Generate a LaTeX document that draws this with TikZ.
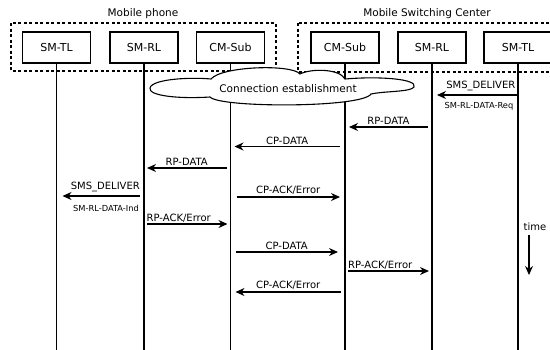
\documentclass[tikz,border=0pt]{standalone}
\usepackage{fontspec}
\setmainfont{DejaVu Sans}
\usetikzlibrary{arrows.meta,calc}
\begin{document}
\begin{tikzpicture}[x=1pt,y=-1pt,
  entity/.style={draw,line width=1.3pt,minimum width=68pt,minimum height=31pt,inner sep=0pt,font=\fontsize{11}{13}\selectfont},
  group/.style={draw,line width=1.2pt,dash pattern=on 3pt off 2.5pt},
  life/.style={line width=1.2pt},
  cloudline/.style={draw,fill=white,line width=1.1pt,line join=miter},
  msg/.style={line width=1.2pt,-{Stealth[length=9pt,width=8pt]}},
  lbl/.style={font=\fontsize{10}{12}\selectfont,inner sep=1.5pt},
  small/.style={font=\fontsize{8.3}{10}\selectfont,inner sep=1pt}]
\useasboundingbox (0,0) rectangle (550,349);
\clip (0,0) rectangle (550,349);
% groups
\draw[group] (11,23) rectangle (276,71);
\draw[group] (298,23) rectangle (556,72);
\node[font=\fontsize{10.5}{12}\selectfont] (gph) at (143,14) {Mobile phone};
\node[font=\fontsize{10.5}{12}\selectfont] (gmsc) at (427,14) {Mobile Switching Center};
% entities
\node[entity] (ptl) at (56.5,47.5) {SM-TL};
\node[entity] (prl) at (144,47.5) {SM-RL};
\node[entity] (pcm) at (230.5,47.5) {CM-Sub};
\node[entity] (mcm) at (345,47.5) {CM-Sub};
\node[entity] (mrl) at (432,47.5) {SM-RL};
\node[entity] (mtl) at (518,47.5) {SM-TL};
% lifelines
\foreach \n in {ptl,prl,pcm,mcm,mrl,mtl}{
  \coordinate (\n-end) at (\n |- 0,350);
  \draw[life] (\n.south) -- (\n-end);
}
% cloud
\path[cloudline] (150,88)
  .. controls (152,79) and (190,77) .. (211,79)
  .. controls (222,66) and (292,64) .. (300,74)
  .. controls (312,68) and (340,69) .. (345,79)
  .. controls (380,76) and (418,79) .. (414,87)
  .. controls (411,92) and (385,91) .. (371,94)
  .. controls (362,108) and (220,108) .. (210,97)
  .. controls (180,99) and (148,96) .. (150,88) -- cycle;
\node[font=\fontsize{10.5}{12}\selectfont,inner sep=0pt] (conn) at (288,89) {Connection establishment};
% messages
\draw[msg] (mtl |- 0,95) -- ($(mrl |- 0,95)+(5,0)$);
\node[lbl,anchor=south east] (l1a) at (517,93) {SMS\_DELIVER};
\node[small] (l1b) at (479,106) {SM-RL-DATA-Req};
\draw[msg] ($(mrl |- 0,127)+(-4,0)$) -- node[lbl,above] (l2) {RP-DATA} ($(mcm |- 0,127)+(4,0)$);
\draw[msg] ($(mcm |- 0,146.5)+(-5,0)$) -- node[lbl,above] (l3) {CP-DATA} ($(pcm |- 0,146.5)+(4,0)$);
\draw[msg] ($(pcm |- 0,168)+(-4,0)$) -- node[lbl,above] (l4) {RP-DATA} ($(prl |- 0,168)+(3,0)$);
\draw[msg] ($(prl |- 0,196)+(-4,0)$) -- ($(ptl |- 0,196)+(6,0)$);
\node[lbl,anchor=south east] (l5a) at (141.5,194) {SMS\_DELIVER};
\node[small] (l5b) at (106,208) {SM-RL-DATA-Ind};
\draw[msg] ($(pcm |- 0,197)+(6,0)$) -- node[lbl,above] (l6) {CP-ACK/Error} ($(mcm |- 0,197)+(-5,0)$);
\draw[msg] ($(prl |- 0,224)+(3,0)$) -- ($(pcm |- 0,224)+(-3,0)$);
\node[lbl,anchor=south west,inner sep=0.5pt] (l7) at (146,223.5) {RP-ACK/Error};
\draw[msg] ($(pcm |- 0,252)+(5,0)$) -- node[lbl,above] (l8) {CP-DATA} ($(mcm |- 0,252)+(-7,0)$);
\draw[msg] ($(mcm |- 0,271)+(3,0)$) -- ($(mrl |- 0,271)+(-3,0)$);
\node[lbl,anchor=south west,inner sep=0.5pt] (l9) at (347.5,270.5) {RP-ACK/Error};
\draw[msg] ($(mcm |- 0,292)+(-4,0)$) -- node[lbl,above] (l10) {CP-ACK/Error} ($(pcm |- 0,292)+(5,0)$);
% time
\node[lbl] (tlabel) at (535,227) {time};
\coordinate (tend) at (529,275);
\draw[msg] (529,235) -- (tend);
\end{tikzpicture}
\end{document}
